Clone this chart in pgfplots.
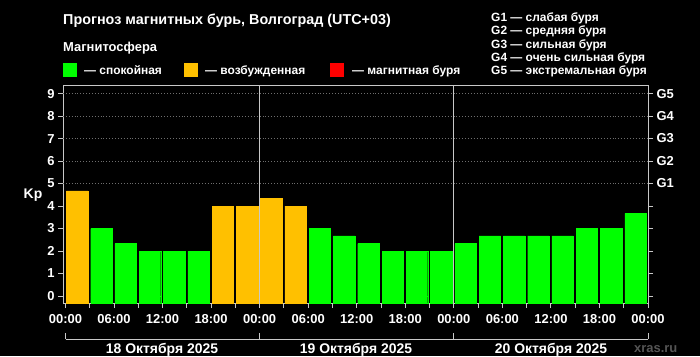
\documentclass[border=0pt]{standalone}
\usepackage{pgfplots}
\pgfplotsset{compat=1.18}
\usepackage{pgfplotstable}
\usepackage{fontspec}
\setmainfont{Liberation Sans}
\definecolor{kpgreen}{RGB}{0,255,0}
\definecolor{kporange}{RGB}{255,192,0}
\definecolor{kpred}{RGB}{255,0,0}
\definecolor{framegray}{RGB}{200,200,200}
\definecolor{gridgray}{RGB}{110,110,110}
\definecolor{wmgray}{RGB}{85,85,85}
\newcommand{\fs}[1]{\fontsize{#1}{#1}\selectfont\bfseries}
% Kp forecast, 3-hour intervals (bar centre in hours from 18 Oct 00:00)
\pgfplotstableread{
x y
1.45 4.67
19.45 4
22.45 4
25.45 4.33
28.45 4
}\orangedata
\pgfplotstableread{
x y
4.45 3
7.45 2.33
10.45 2
13.45 2
16.45 2
31.45 3
34.45 2.67
37.45 2.33
40.45 2
43.45 2
46.45 2
49.45 2.33
52.45 2.67
55.45 2.67
58.45 2.67
61.45 2.67
64.45 3
67.45 3
70.45 3.67
}\greendata
\begin{document}
\begin{tikzpicture}[x=1bp,y=1bp]
\fill[black] (0,0) rectangle (700,356);
\pgfplotsset{
  kpaxis/.style={
    at={(63bp,53bp)}, anchor=south west,
    scale only axis, width=585bp, height=218bp,
    xmin=-0.3, xmax=72, ymin=-0.31, ymax=9.38,
    clip=false,
    axis line style={draw=framegray, line width=0.9bp},
    tick align=outside,
    major tick length=5bp, minor tick length=5bp,
    every tick/.style={framegray, line width=0.9bp},
    /pgf/number format/assume math mode=true,
    ticklabel style={font=\fs{13}, text=white},
  }
}
\begin{axis}[kpaxis,
  xtick pos=bottom, ytick pos=left,
  xtick={0,6,...,72},
  xticklabels={00:00,06:00,12:00,18:00,00:00,06:00,12:00,18:00,00:00,06:00,12:00,18:00,00:00},
  xticklabel style={yshift=-3bp},
  minor xtick={3,9,...,69},
  ytick={0,...,9},
  yticklabels={0,1,2,3,4,5,6,7,8,9},
]
% dotted grid
\foreach \g in {5,...,9}{
  \edef\tmp{\noexpand\draw[gridgray, dotted, line width=0.9bp] (axis cs:-0.3,\g) -- (axis cs:72,\g);}
  \tmp
}
% bars
\addplot[ybar, bar width=2.65, bar shift=0pt, fill=kporange, draw=kporange, line width=0.3bp] table[x=x,y=y] {\orangedata};
\addplot[ybar, bar width=2.65, bar shift=0pt, fill=kporange, draw=kporange, line width=0.3bp] table[x=x,y expr=-0.31] {\orangedata};
\addplot[ybar, bar width=2.65, bar shift=0pt, fill=kpgreen, draw=kpgreen, line width=0.3bp] table[x=x,y=y] {\greendata};
\addplot[ybar, bar width=2.65, bar shift=0pt, fill=kpgreen, draw=kpgreen, line width=0.3bp] table[x=x,y expr=-0.31] {\greendata};
% day separators
\draw[framegray, line width=0.9bp] (axis cs:24,-0.31) -- (axis cs:24,9.38);
\draw[framegray, line width=0.9bp] (axis cs:48,-0.31) -- (axis cs:48,9.38);
\end{axis}
\begin{axis}[kpaxis,
  axis x line=none, axis y line*=right,
  ytick={0,...,9},
  yticklabels={,,,,,G1,G2,G3,G4,G5},
]
\addplot[draw=none] coordinates {(0,0)};
\end{axis}
% Kp label
\node[text=white, font=\fs{14}] at (33,161) {Kp};
% day brackets
\draw[framegray, line width=0.9bp] (65.5,17) -- (648,17);
\foreach \xx in {65.5,259,453.5,648}{\draw[framegray, line width=0.9bp] (\xx,17) -- (\xx,23);}
\node[text=white, font=\fs{14}, anchor=base] at (162,3) {18 Октября 2025};
\node[text=white, font=\fs{14}, anchor=base] at (356,3) {19 Октября 2025};
\node[text=white, font=\fs{14}, anchor=base] at (551,3) {20 Октября 2025};
\node[text=wmgray, font=\fs{13}, anchor=base west, inner sep=0] at (634,3.3) {xras.ru};
% title and legend
\node[text=white, font=\fs{14.4}, anchor=base west, inner sep=0] at (63,331.7) {Прогноз магнитных бурь, Волгоград (UTC+03)};
\node[text=white, font=\fs{13}, anchor=base west, inner sep=0] at (63,304.3) {Магнитосфера};
\fill[kpgreen] (63,279) rectangle (77,293);
\node[text=white, font=\fs{12}, anchor=base west, inner sep=0] at (84,282) {— спокойная};
\fill[kporange] (184,279) rectangle (198,293);
\node[text=white, font=\fs{12}, anchor=base west, inner sep=0] at (205,282) {— возбужденная};
\fill[kpred] (330,279) rectangle (344,293);
\node[text=white, font=\fs{12}, anchor=base west, inner sep=0] at (352,282) {— магнитная буря};
\node[text=white, font=\fs{12}, anchor=base west, inner sep=0] at (491,334.3) {G1 — слабая буря};
\node[text=white, font=\fs{12}, anchor=base west, inner sep=0] at (491,321.1) {G2 — средняя буря};
\node[text=white, font=\fs{12}, anchor=base west, inner sep=0] at (491,308.0) {G3 — сильная буря};
\node[text=white, font=\fs{12}, anchor=base west, inner sep=0] at (491,294.8) {G4 — очень сильная буря};
\node[text=white, font=\fs{12}, anchor=base west, inner sep=0] at (491,281.7) {G5 — экстремальная буря};
\pgfresetboundingbox
\path[use as bounding box] (0,0) rectangle (700,356);
\end{tikzpicture}
\end{document}
